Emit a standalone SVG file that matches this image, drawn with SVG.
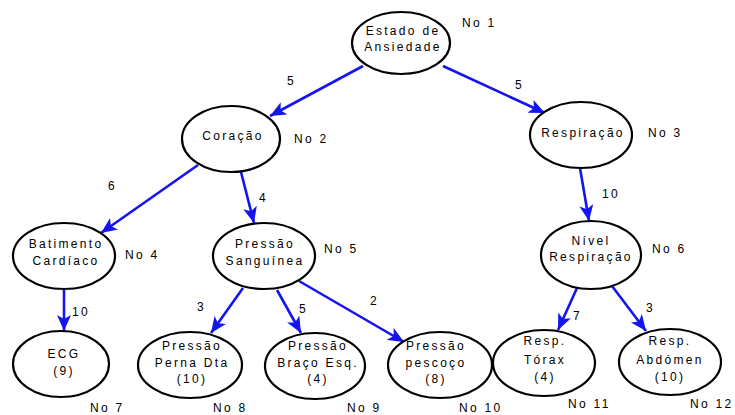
<svg xmlns="http://www.w3.org/2000/svg" width="735" height="415" viewBox="0 0 735 415">
<style>
text{font-family:"Liberation Sans",Arial,sans-serif;font-size:12px;letter-spacing:2.3px;fill:#000}
.n text{text-anchor:middle}
ellipse{fill:#fff;stroke:#000;stroke-width:2.2}
.e line{stroke:#1414f0;stroke-width:2.6;marker-end:url(#a)}
</style>
<defs>
<marker id="a" markerUnits="userSpaceOnUse" markerWidth="17" markerHeight="14" refX="16" refY="7" orient="auto" viewBox="0 0 17 14">
<path d="M0,0 L16,7 L0,14 L4,7 z" fill="#1414f0"/>
</marker>
</defs>
<g id="edges" class="e">
<line x1="363" y1="66" x2="270" y2="116"/>
<line x1="443" y1="66" x2="545" y2="113"/>
<line x1="198" y1="165" x2="101" y2="233"/>
<line x1="241" y1="172" x2="254" y2="223"/>
<line x1="580" y1="168" x2="589" y2="221"/>
<line x1="64" y1="289" x2="64" y2="331"/>
<line x1="243" y1="288" x2="211" y2="333"/>
<line x1="277" y1="290" x2="301" y2="333"/>
<line x1="299" y1="281" x2="404" y2="342"/>
<line x1="577" y1="288" x2="558" y2="330"/>
<line x1="612" y1="286" x2="646" y2="331"/>
</g>
<g id="edge-labels">
<text x="287" y="85">5</text>
<text x="515" y="89">5</text>
<text x="108" y="190">6</text>
<text x="259" y="202">4</text>
<text x="602" y="198">10</text>
<text x="72" y="316">10</text>
<text x="197" y="311">3</text>
<text x="299" y="313">5</text>
<text x="370" y="305">2</text>
<text x="573" y="320">7</text>
<text x="646" y="312">3</text>
</g>
<g id="n1" class="n"><ellipse cx="401" cy="43" rx="49" ry="31"/><text x="403" y="35">Estado de</text><text x="403" y="51">Ansiedade</text><text x="462" y="27" style="text-anchor:start">No 1</text></g>
<g id="n2" class="n"><ellipse cx="231" cy="139" rx="49" ry="33"/><text x="233" y="140">Coração</text><text x="294" y="143" style="text-anchor:start">No 2</text></g>
<g id="n3" class="n"><ellipse cx="581" cy="135" rx="51" ry="33"/><text x="583" y="137">Respiração</text><text x="648" y="137" style="text-anchor:start">No 3</text></g>
<g id="n4" class="n"><ellipse cx="64" cy="256" rx="51" ry="33"/><text x="66" y="248">Batimento</text><text x="66" y="265">Cardíaco</text><text x="125" y="259" style="text-anchor:start">No 4</text></g>
<g id="n5" class="n"><ellipse cx="264" cy="256" rx="51" ry="33"/><text x="265" y="248">Pressão</text><text x="265" y="265">Sanguínea</text><text x="324" y="253" style="text-anchor:start">No 5</text></g>
<g id="n6" class="n"><ellipse cx="591" cy="255" rx="50" ry="34"/><text x="591" y="245">Nível</text><text x="591" y="261">Respiração</text><text x="652" y="253" style="text-anchor:start">No 6</text></g>
<g id="n7" class="n"><ellipse cx="61" cy="364" rx="48" ry="33"/><text x="64" y="358">ECG</text><text x="64" y="375">(9)</text><text x="90" y="412" style="text-anchor:start">No 7</text></g>
<g id="n8" class="n"><ellipse cx="190" cy="365" rx="52" ry="33"/><text x="192" y="350">Pressão</text><text x="192" y="367">Perna Dta</text><text x="192" y="383">(10)</text><text x="213" y="412" style="text-anchor:start">No 8</text></g>
<g id="n9" class="n"><ellipse cx="315" cy="366" rx="50" ry="33"/><text x="318" y="350">Pressão</text><text x="318" y="367">Braço Esq.</text><text x="318" y="383">(4)</text><text x="347" y="412" style="text-anchor:start">No 9</text></g>
<g id="n10" class="n"><ellipse cx="440" cy="365" rx="52" ry="33"/><text x="436" y="350">Pressão</text><text x="436" y="367">pescoço</text><text x="436" y="383">(8)</text><text x="459" y="412" style="text-anchor:start">No 10</text></g>
<g id="n11" class="n"><ellipse cx="544" cy="363" rx="51" ry="33"/><text x="545" y="345">Resp.</text><text x="545" y="364">Tórax</text><text x="545" y="381">(4)</text><text x="568" y="408" style="text-anchor:start">No 11</text></g>
<g id="n12" class="n"><ellipse cx="670" cy="362" rx="51" ry="33"/><text x="670" y="345">Resp.</text><text x="670" y="364">Abdómen</text><text x="670" y="381">(10)</text><text x="690" y="408" style="text-anchor:start">No 12</text></g>
</svg>
